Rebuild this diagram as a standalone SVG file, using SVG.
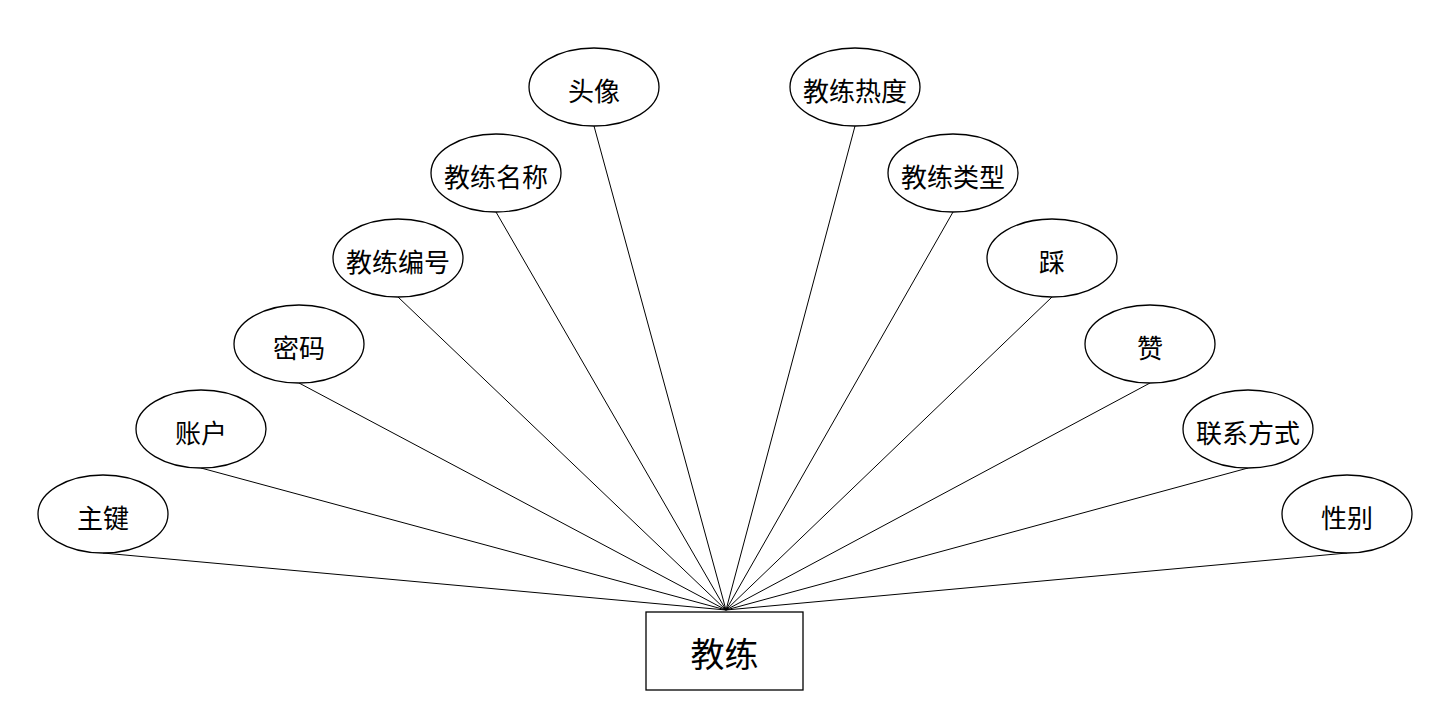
<svg xmlns="http://www.w3.org/2000/svg" width="1440" height="712" viewBox="0 0 1440 712">
<style>
.e{fill:#fff;stroke:#000;stroke-width:1.3}
.t{font-family:"Noto Sans CJK SC","Noto Sans",sans-serif;font-size:26px;fill:#000;text-anchor:middle;dominant-baseline:central}
.c line{stroke:#000;stroke-width:1}
</style>
<rect width="1440" height="712" fill="#fff"/>
<g class="c" id="connectors">
<line x1="103" y1="553" x2="726" y2="610"/>
<line x1="201" y1="468" x2="726" y2="610"/>
<line x1="299" y1="383" x2="726" y2="610"/>
<line x1="398" y1="297" x2="726" y2="610"/>
<line x1="496" y1="212" x2="726" y2="610"/>
<line x1="594" y1="126" x2="726" y2="610"/>
<line x1="855" y1="126" x2="726" y2="610"/>
<line x1="953" y1="212" x2="726" y2="610"/>
<line x1="1052" y1="297" x2="726" y2="610"/>
<line x1="1150" y1="383" x2="726" y2="610"/>
<line x1="1248" y1="468" x2="726" y2="610"/>
<line x1="1347" y1="553" x2="726" y2="610"/>
</g>
<g id="n-zhujian"><ellipse class="e" cx="103" cy="514" rx="65" ry="39"/><text class="t" x="103" y="516">主键</text></g>
<g id="n-zhanghu"><ellipse class="e" cx="201" cy="429" rx="65" ry="39"/><text class="t" x="201" y="431">账户</text></g>
<g id="n-mima"><ellipse class="e" cx="299" cy="344" rx="65" ry="39"/><text class="t" x="299" y="346">密码</text></g>
<g id="n-bianhao"><ellipse class="e" cx="398" cy="258" rx="65" ry="39"/><text class="t" x="398" y="260">教练编号</text></g>
<g id="n-mingcheng"><ellipse class="e" cx="496" cy="173" rx="65" ry="39"/><text class="t" x="496" y="175">教练名称</text></g>
<g id="n-touxiang"><ellipse class="e" cx="594" cy="87" rx="65" ry="39"/><text class="t" x="594" y="89">头像</text></g>
<g id="n-redu"><ellipse class="e" cx="855" cy="87" rx="65" ry="39"/><text class="t" x="855" y="89">教练热度</text></g>
<g id="n-leixing"><ellipse class="e" cx="953" cy="173" rx="65" ry="39"/><text class="t" x="953" y="175">教练类型</text></g>
<g id="n-cai"><ellipse class="e" cx="1052" cy="258" rx="65" ry="39"/><text class="t" x="1052" y="260">踩</text></g>
<g id="n-zan"><ellipse class="e" cx="1150" cy="344" rx="65" ry="39"/><text class="t" x="1150" y="346">赞</text></g>
<g id="n-lianxi"><ellipse class="e" cx="1248" cy="429" rx="65" ry="39"/><text class="t" x="1248" y="431">联系方式</text></g>
<g id="n-xingbie"><ellipse class="e" cx="1347" cy="514" rx="65" ry="39"/><text class="t" x="1347" y="516">性别</text></g>
<g id="n-jiaolian"><rect x="646" y="612" width="157" height="78" fill="#fff" stroke="#000" stroke-width="1.3"/><text class="t" x="724.5" y="652" style="font-size:34px">教练</text></g>
</svg>
